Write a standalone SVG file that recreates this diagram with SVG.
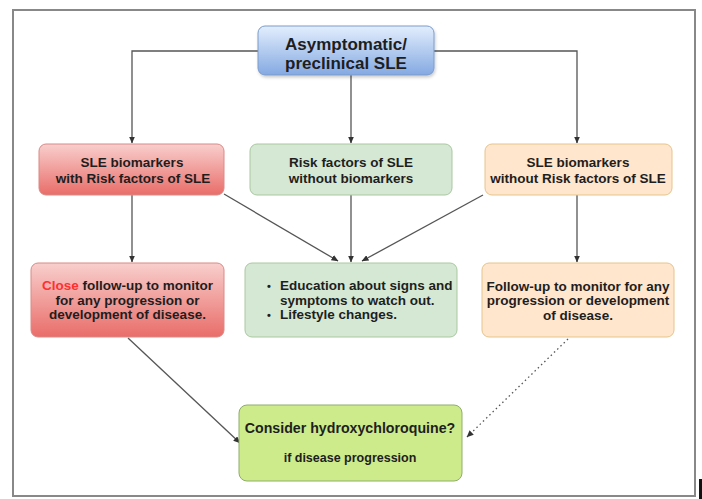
<svg xmlns="http://www.w3.org/2000/svg" width="702" height="499" viewBox="0 0 702 499">
<defs>
<linearGradient id="gBlue" x1="0" y1="0" x2="0" y2="1">
<stop offset="0" stop-color="#e3eefd"/>
<stop offset="1" stop-color="#84a9e2"/>
</linearGradient>
<linearGradient id="gRed" x1="0" y1="0" x2="0" y2="1">
<stop offset="0" stop-color="#f8cfcd"/>
<stop offset="1" stop-color="#e96d69"/>
</linearGradient>
<filter id="sh" x="-10%" y="-10%" width="120%" height="140%">
<feDropShadow dx="1" dy="2" stdDeviation="1.5" flood-color="#000" flood-opacity="0.2"/>
</filter>
<marker id="arr" markerWidth="7" markerHeight="6" refX="6.5" refY="3" orient="auto" markerUnits="userSpaceOnUse">
<path d="M0,0 L7,3 L0,6 Z" fill="#333"/>
</marker>
<style>
.t{font-family:"Liberation Sans",Arial,sans-serif;font-weight:bold;font-size:13.5px;fill:#1e1e1e;}
.c{text-anchor:middle;}
.box{stroke-width:1;}
.con{fill:none;stroke:#555;stroke-width:1.3;marker-end:url(#arr);}
</style>
</defs>
<rect x="0" y="0" width="702" height="499" fill="#ffffff"/>
<rect x="13" y="10" width="682" height="486" fill="#ffffff" stroke="#888" stroke-width="2"/>
<rect x="699" y="479" width="3" height="20" fill="#111"/>

<g id="connectors">
<path class="con" d="M259,51 H132 V143"/>
<path class="con" d="M351,75 V143"/>
<path class="con" d="M434,51 H577 V143"/>
<path class="con" d="M132,195 V262"/>
<path class="con" d="M351,195 V262"/>
<path class="con" d="M577,195 V262"/>
<path class="con" d="M224,194 L338,261"/>
<path class="con" d="M483,195 L362,261"/>
<path class="con" d="M128,338 L240,443"/>
<path class="con" d="M568,339 L467,437" stroke-dasharray="1.5,3"/>
</g>

<g id="top">
<rect class="box" x="258" y="26" width="176" height="49" rx="7" fill="url(#gBlue)" stroke="#7a9ccc" filter="url(#sh)"/>
<text class="t c" x="346" y="50" style="font-size:17px">Asymptomatic/</text>
<text class="t c" x="346" y="69" style="font-size:17px">preclinical SLE</text>
</g>

<g id="red1">
<rect class="box" x="39" y="144" width="185" height="51" rx="7" fill="url(#gRed)" stroke="#d98a87"/>
<text class="t c" x="132" y="167">SLE biomarkers</text>
<text class="t c" x="133" y="183">with Risk factors of SLE</text>
</g>

<g id="green1">
<rect class="box" x="250" y="144" width="202" height="51" rx="7" fill="#d5e8d4" stroke="#a9c8a0"/>
<text class="t c" x="351" y="167">Risk factors of SLE</text>
<text class="t c" x="351" y="183">without biomarkers</text>
</g>

<g id="orange1">
<rect class="box" x="485" y="144" width="187" height="51" rx="7" fill="#ffe6cc" stroke="#e6c48c"/>
<text class="t c" x="578" y="167">SLE biomarkers</text>
<text class="t c" x="578" y="183">without Risk factors of SLE</text>
</g>

<g id="red2">
<rect class="box" x="31" y="263" width="193" height="74" rx="7" fill="url(#gRed)" stroke="#d98a87"/>
<text class="t c" x="127.5" y="290"><tspan fill="#ff3030">Close</tspan> follow-up to monitor</text>
<text class="t c" x="127.5" y="305">for any progression or</text>
<text class="t c" x="127.5" y="319">development of disease.</text>
</g>

<g id="green2">
<rect class="box" x="245" y="263" width="212" height="74" rx="7" fill="#d5e8d4" stroke="#a9c8a0"/>
<text class="t" x="267" y="290" style="font-size:11px">•</text>
<text class="t" x="280" y="290">Education about signs and</text>
<text class="t" x="280" y="305">symptoms to watch out.</text>
<text class="t" x="267" y="319" style="font-size:11px">•</text>
<text class="t" x="280" y="319">Lifestyle changes.</text>
</g>

<g id="orange2">
<rect class="box" x="482" y="263" width="192" height="74" rx="7" fill="#ffe6cc" stroke="#e6c48c"/>
<text class="t c" x="578" y="291">Follow-up to monitor for any</text>
<text class="t c" x="578" y="305">progression or development</text>
<text class="t c" x="578" y="320">of disease.</text>
</g>

<g id="bottom">
<rect class="box" x="239" y="405" width="223" height="76" rx="8" fill="#cdeb8b" stroke="#8fae6a"/>
<text class="t c" x="350" y="433" style="font-size:14.2px">Consider hydroxychloroquine?</text>
<text class="t c" x="350" y="462" style="font-size:12.5px">if disease progression</text>
</g>
</svg>
